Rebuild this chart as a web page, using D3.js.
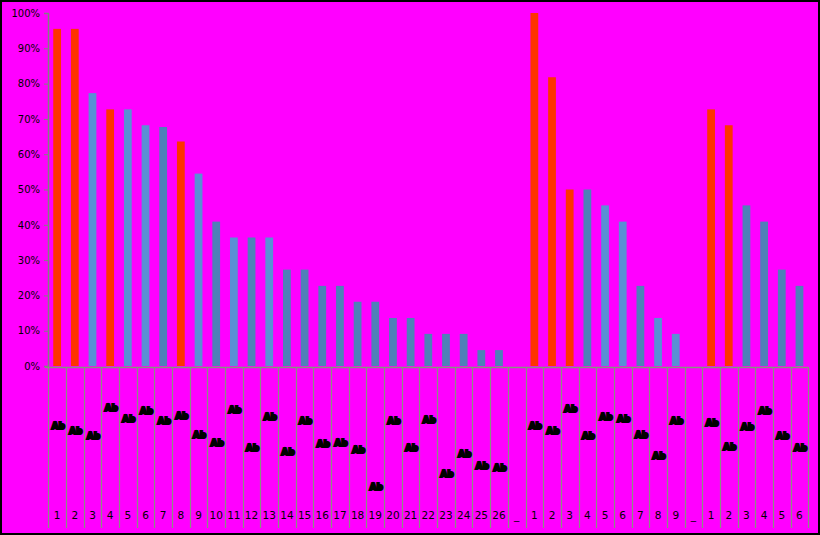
<!DOCTYPE html>
<html><head><meta charset="utf-8">
<script src="https://cdn.jsdelivr.net/npm/d3@7"></script>
<style>html,body{margin:0;padding:0;background:#ff00ff;}svg{display:block;}</style>
</head><body>
<svg id="c" width="820" height="535"></svg>
<script>
// categories (cell labels along the bottom)
const categories = ["1","2","3","4","5","6","7","8","9","10","11","12","13","14","15","16","17","18","19","20","21","22","23","24","25","26","_",
  "1","2","3","4","5","6","7","8","9","_",
  "1","2","3","4","5","6"];
// bar values (percent); null = no bar
const values = [95.5,95.5,77.3,72.7,72.7,68.2,67.7,63.6,54.5,40.9,36.4,36.4,36.4,27.3,27.3,22.7,22.7,18.2,18.2,13.6,13.6,9.1,9.1,9.1,4.5,4.5,null,
  100,81.8,50,50,45.5,40.9,22.7,13.6,9.1,null,
  72.7,68.2,45.5,40.9,27.3,22.7];
// bar kind: r = highlighted (red), a = blue light, b = blue dark
const kinds = ["r","r","a","r","a","a","b","r","a","b","a","b","a","b","b","b","b","b","b","b","b","b","b","b","b","b","",
  "r","r","r","b","a","a","b","a","a","",
  "r","r","b","b","b","b"];
// marker level in the lower panel (0 = top of panel, 100 = bottom)
const markers = [25,30,35,7,18,10,20,15,34,42,9,47,16,51,20,43,42,49,86,20,47,19,73,53,65,67,null,
  25,30,8,35,16,18,34,55,20,null,
  22,46,26,10,35,47];
const markerText = ["Ab","Ab","Ab","Ab","Ab","Ab","Ab","Ab","Ab","Ab","Ab","Ab","Ab","Ab","Ab","Ab","Ab","Ab","Ab","Ab","Ab","Ab","Ab","Ab","Ab","Ab","",
  "Ab","Ab","Ab","Ab","Ab","Ab","Ab","Ab","Ab","",
  "Ab","Ab","Ab","Ab","Ab","Ab"];
const yTicks = [0,10,20,30,40,50,60,70,80,90,100];

const colors = {r:"#ff3300", a:"#5a8fd4", b:"#4f80b8"};
const svg = d3.select("#c");
const W = 820, H = 535;
svg.append("rect").attr("x",0).attr("y",0).attr("width",W).attr("height",H).attr("fill","#ff00ff");

const idx = categories.map((d,i)=>i);
const x = d3.scaleBand().domain(idx).range([48.3, 808.3]).paddingInner(0).paddingOuter(0);
const y = d3.scaleLinear().domain([0,100]).range([366,13]);
const my = d3.scaleLinear().domain([0,100]).range([400,500]);

// bars
const bw = x.bandwidth()*0.44;
svg.append("g").selectAll("rect").data(idx.filter(i=>values[i]!=null)).join("rect")
  .attr("x", i=>x(i)+x.bandwidth()/2-bw/2)
  .attr("y", i=>y(values[i]))
  .attr("width", bw)
  .attr("height", i=>y(0)-y(values[i]))
  .attr("fill", i=>colors[kinds[i]]);

// y axis
const ya = svg.append("g").attr("transform","translate(48,0)")
  .call(d3.axisLeft(y).tickValues(yTicks).tickFormat(d=>d+"%").tickSize(4).tickPadding(4));
ya.select(".domain").attr("stroke","#808080").attr("stroke-width",1.5);
ya.selectAll(".tick line").attr("stroke","#808080");
ya.selectAll("text").attr("font-family","DejaVu Sans").attr("font-size",10).attr("fill","#000");

// lower panel
const gx = svg.append("g");
gx.append("line").attr("x1",45).attr("x2",808.3).attr("y1",367.5).attr("y2",367.5).attr("stroke","#889080").attr("stroke-width",1.5);
const bounds = idx.map(i=>x(i)).concat([x(idx[idx.length-1])+x.bandwidth()]);
gx.selectAll("line.sep").data(bounds).join("line").attr("class","sep")
  .attr("x1",d=>Math.round(d)+0.5).attr("x2",d=>Math.round(d)+0.5)
  .attr("y1",367).attr("y2",528).attr("stroke","#889080").attr("stroke-width",1.2);

gx.selectAll("text.cat").data(idx).join("text").attr("class","cat")
  .attr("x",i=>x(i)+x.bandwidth()/2).attr("y",519)
  .attr("text-anchor","middle").attr("font-family","DejaVu Sans").attr("font-size",10.5).attr("fill","#000")
  .text(i=>categories[i]);

// markers
gx.selectAll("text.mk").data(idx.filter(i=>markers[i]!=null)).join("text").attr("class","mk")
  .attr("x",i=>x(i)+x.bandwidth()/2+1).attr("y",i=>my(markers[i])+4)
  .attr("text-anchor","middle").attr("font-family","DejaVu Sans").attr("font-size",9).attr("font-weight","bold")
  .attr("fill","#000").attr("stroke","#000").attr("stroke-width",2)
  .text(i=>markerText[i]);

// frame
svg.append("rect").attr("x",1).attr("y",1).attr("width",W-2).attr("height",H-2)
  .attr("fill","none").attr("stroke","#000").attr("stroke-width",2);
</script>
</body></html>
